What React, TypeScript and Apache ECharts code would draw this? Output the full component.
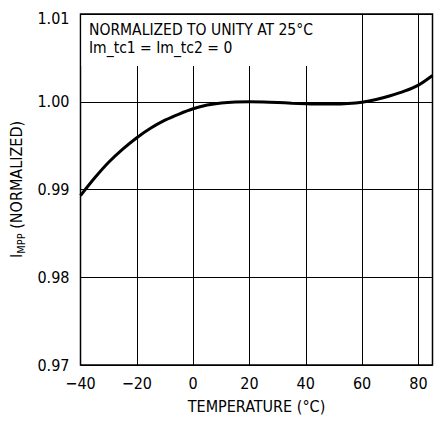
import React, { useEffect, useRef } from "react";
import * as echarts from "echarts";

const temperatures = [-40, -35, -30, -25, -20, -15, -10, -5, 0, 5, 10, 15, 20, 25, 30, 35, 40, 45, 50, 55, 60, 65, 70, 75, 80, 85];
const imppNormalized = [
  0.9893, 0.9913, 0.9931, 0.9946, 0.9959, 0.997, 0.9979, 0.9986, 0.9992, 0.99962, 0.99987, 0.99998, 1.0,
  0.99998, 0.99992, 0.99984, 0.99977, 0.99973, 0.99973, 0.99979, 0.99995, 1.00025, 1.00068, 1.0012, 1.0019, 1.003,
];
const xMin = -40;
const xMax = 85;
const xStep = 20;
const yMin = 0.97;
const yMax = 1.01;
const yStep = 0.01;
const noteLines = ["NORMALIZED TO UNITY AT 25°C", "Im_tc1 = Im_tc2 = 0"];
const xTitle = "TEMPERATURE (°C)";

const FONT = '"DejaVu Sans Condensed", "Liberation Sans Narrow", "Liberation Sans", sans-serif';
const FS = 16;

export default function App() {
  const ref = useRef<HTMLDivElement>(null);
  useEffect(() => {
    document.body.style.margin = "0";
    const chart = echarts.init(ref.current!, null, { renderer: "svg" });
    const option: any = {
      animation: false,
      backgroundColor: "#fff",
      textStyle: { fontFamily: FONT },
      grid: {
        left: 80.5,
        right: 7.5,
        top: 14,
        bottom: 56,
        show: true,
        borderColor: "#000",
        borderWidth: 1.5,
        backgroundColor: "transparent",
        outerBoundsMode: "none",
        containLabel: false,
      },
      xAxis: {
        type: "value",
        min: xMin,
        max: xMax,
        interval: xStep,
        name: xTitle,
        nameLocation: "middle",
        nameGap: 33,
        nameTextStyle: { fontFamily: FONT, fontSize: FS, color: "#000" },
        axisLine: { show: false },
        axisTick: { show: false },
        axisLabel: {
          fontFamily: FONT,
          fontSize: FS,
          color: "#000",
          margin: 10,
          formatter: (v: number) => (v > 80 ? "" : String(v).replace("-", "\u2212")),
        },
        splitLine: { show: true, lineStyle: { color: "#000", width: 1 } },
      },
      yAxis: {
        type: "value",
        min: yMin,
        max: yMax,
        interval: yStep,
        name: "{i|I}{s|MPP}{n| (NORMALIZED)}",
        nameLocation: "middle",
        nameGap: 48,
        nameTextStyle: {
          fontFamily: FONT,
          color: "#000",
          rich: {
            i: { fontFamily: FONT, fontSize: FS, color: "#000", lineHeight: 21, verticalAlign: "middle" },
            s: { fontFamily: FONT, fontSize: 11, color: "#000", lineHeight: 21, verticalAlign: "bottom" },
            n: { fontFamily: FONT, fontSize: FS, color: "#000", lineHeight: 21, verticalAlign: "middle" },
          },
        },
        axisLine: { show: false },
        axisTick: { show: false },
        axisLabel: {
          fontFamily: FONT,
          fontSize: FS,
          color: "#000",
          margin: 11,
          formatter: (v: number) => {
            const s = v.toFixed(2);
            return Math.abs(v - yMax) < 1e-9 ? "{top|" + s + "}" : s;
          },
          rich: {
            top: { fontFamily: FONT, fontSize: FS, color: "#000", padding: [8, 0, 0, 0] },
          },
        },
        splitLine: { show: true, lineStyle: { color: "#000", width: 1 } },
      },
      graphic: [
        {
          type: "rect",
          z: 100,
          shape: { x: 81.5, y: 15, width: 258, height: 51 },
          style: { fill: "#fff" },
        },
        {
          type: "text",
          z: 101,
          x: 89,
          y: 20.5,
          style: {
            text: noteLines.join("\n"),
            fontFamily: FONT,
            fontSize: 15.5,
            lineHeight: 18,
            fill: "#000",
            verticalAlign: "top",
            align: "left",
          },
        },
      ],
      series: [
        {
          type: "line",
          data: temperatures.map((t, i) => [t, imppNormalized[i]]),
          smooth: 0.3,
          showSymbol: false,
          symbol: "none",
          lineStyle: { color: "#000", width: 3 },
          z: 5,
        },
      ],
    };
    chart.setOption(option);
    return () => chart.dispose();
  }, []);
  return <div ref={ref} style={{ width: 440, height: 421 }} />;
}
